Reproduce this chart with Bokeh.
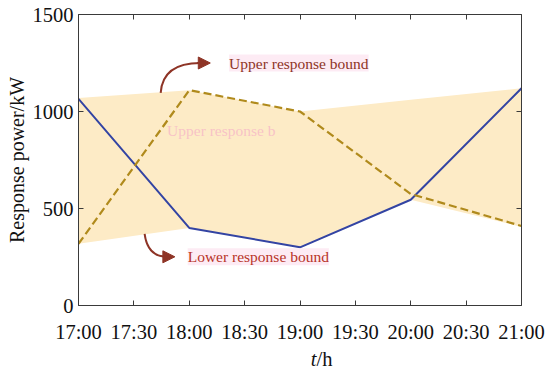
from bokeh.plotting import figure
from bokeh.layouts import column
from bokeh.models import (FixedTicker, LinearAxis, Label, Arrow, NormalHead, Range1d)
from bokeh.core.properties import value
from bokeh.embed import file_html
from bokeh.resources import INLINE

# data (hours since midnight)
hours = [17, 18, 19, 20, 21]
band_upper = [1070, 1110, 1000, 1060, 1120]
band_lower = [318, 400, 300, 545, 405]
power_solid = [1065, 400, 300, 545, 1120]
power_dashed = [318, 1110, 1000, 575, 410]
x_ticks = [17, 17.5, 18, 18.5, 19, 19.5, 20, 20.5, 21]
x_tick_labels = ["17:00", "17:30", "18:00", "18:30", "19:00", "19:30", "20:00", "20:30", "21:00"]
y_ticks = [0, 500, 1000, 1500]

FONT = "Liberation Serif"
AX = "#3a3a3a"

p = figure(width=550, height=345, output_backend="svg", toolbar_location=None,
           x_range=Range1d(17, 21), y_range=Range1d(0, 1500),
           min_border_left=78, min_border_right=29, min_border_top=14, min_border_bottom=38)
p.grid.visible = False
p.outline_line_color = None
p.background_fill_color = "white"
p.border_fill_color = "white"

# band
p.varea(x=hours, y1=band_lower, y2=band_upper, fill_color="#fdebc6", fill_alpha=1.0)

# series
p.line(hours, power_solid, line_color="#3344a3", line_width=2)
p.line(hours, power_dashed, line_color="#b08a1c", line_width=2.2, line_dash="8 4")

# axes styling
def style(ax, labels=True):
    ax.axis_line_color = AX
    ax.major_tick_line_color = AX
    ax.minor_tick_line_color = None
    ax.major_tick_in = 5
    ax.major_tick_out = 0
    ax.major_label_text_font = FONT
    ax.major_label_text_font_size = "20.5px"
    ax.major_label_text_color = "#111111"
    if not labels:
        ax.major_label_text_font_size = "0px"
        ax.major_label_text_color = None

xa = p.xaxis[0]
xa.ticker = FixedTicker(ticks=x_ticks)
xa.major_label_overrides = {t: l for t, l in zip(x_ticks, x_tick_labels)}
style(xa)
xa.major_label_standoff = 15

ya = p.yaxis[0]
ya.ticker = FixedTicker(ticks=y_ticks)
style(ya)
ya.major_label_standoff = 5
ya.axis_label = "Response power/kW"
ya.axis_label_text_font = FONT
ya.axis_label_text_font_size = "20px"
ya.axis_label_text_font_style = "normal"
ya.axis_label_text_color = "#111111"
ya.axis_label_standoff = 2

top = LinearAxis(ticker=FixedTicker(ticks=x_ticks))
style(top, labels=False)
p.add_layout(top, "above")
right = LinearAxis(ticker=FixedTicker(ticks=y_ticks))
style(right, labels=False)
p.add_layout(right, "right")

# ghost text artifact
p.add_layout(Label(x=17.80, y=900, text="Upper response b", text_align="left", text_baseline="middle",
                   text_font=FONT, text_font_size="15.5px", text_color="#f4a6c6", text_alpha=0.6))

# annotations
up_col = "#8e3426"
lo_col = "#b83428"
p.quadratic(x0=17.742, y0=1096, x1=18.10, y1=1250, cx=17.76, cy=1250,
            line_color=up_col, line_width=2)
p.add_layout(Arrow(end=NormalHead(size=12, fill_color=up_col, line_color=up_col),
                   x_start=18.07, y_start=1250, x_end=18.19, y_end=1250,
                   line_color=up_col, line_width=2))
p.add_layout(Label(x=18.36, y=1250, text="Upper response bound", text_align="left",
                   text_baseline="middle", text_font=FONT, text_font_size="15.5px",
                   text_color=up_col, background_fill_color="#fde6f1", background_fill_alpha=0.8))

p.quadratic(x0=17.597, y0=369, x1=17.80, y1=251, cx=17.624, cy=251,
            line_color=up_col, line_width=2)
p.add_layout(Arrow(end=NormalHead(size=12, fill_color=up_col, line_color=up_col),
                   x_start=17.78, y_start=251, x_end=17.87, y_end=251,
                   line_color=up_col, line_width=2))
p.add_layout(Label(x=17.986, y=251, text="Lower response bound", text_align="left",
                   text_baseline="middle", text_font=FONT, text_font_size="15.5px",
                   text_color=lo_col, background_fill_color="#fde6f1", background_fill_alpha=0.8))

# x axis title strip: italic t + upright /h
q = figure(width=550, height=23, output_backend="svg", toolbar_location=None,
           x_range=Range1d(0, 550), y_range=Range1d(0, 23), min_border=0,
           x_axis_location=None, y_axis_location=None)
q.grid.visible = False
q.outline_line_color = None
q.text(x=[295.5], y=[10], text=["t"], text_align="right", text_baseline="middle",
       text_font=value(FONT), text_font_size="20.5px", text_font_style="italic", text_color="#111111")
q.text(x=[295.5], y=[10], text=["/h"], text_align="left", text_baseline="middle",
       text_font=value(FONT), text_font_size="20.5px", text_color="#111111")

layout = column(p, q, spacing=0)
open("out.html", "w").write(file_html(layout, INLINE))
